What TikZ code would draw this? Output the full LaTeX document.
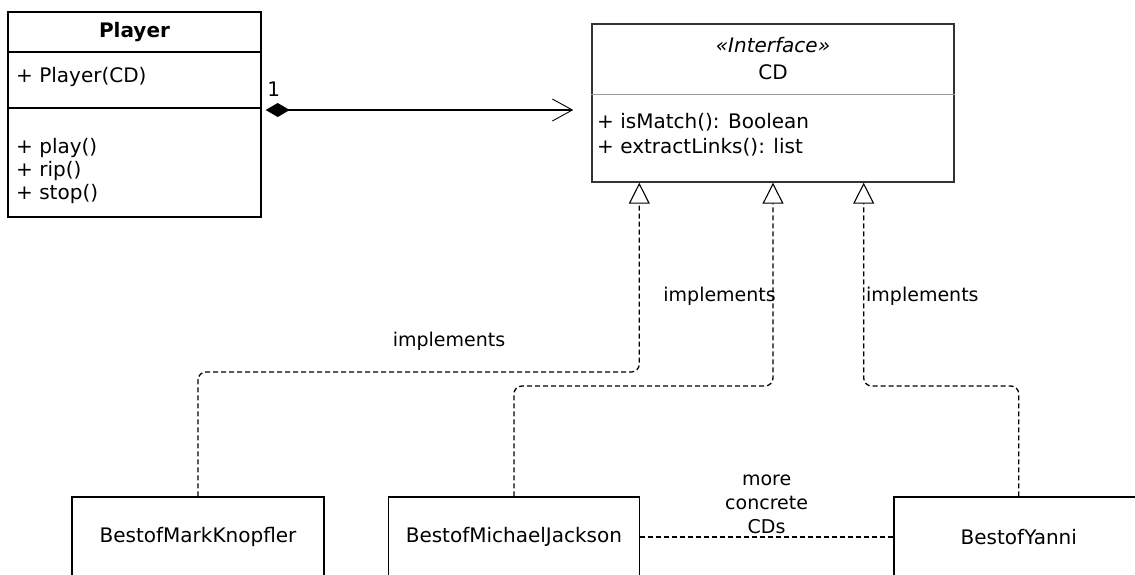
\documentclass[tikz,border=0pt]{standalone}
\usepackage{fontspec}
\setmainfont{DejaVu Sans}
\usetikzlibrary{arrows.meta}
\usetikzlibrary{positioning}

\begin{document}
\begin{tikzpicture}[x=1pt,y=-1pt,
  every node/.style={font=\fontsize{20}{23}\selectfont},
  cls/.style={draw, line width=1.4pt, inner sep=0pt, minimum height=80pt},
  impl/.style={line width=1.3pt, dash pattern=on 5pt off 3pt, rounded corners=8pt,
    -{Triangle[open,length=21pt,width=21pt,line width=1.1pt]}},
  txt/.style={inner sep=0pt, anchor=west},
  lbl/.style={inner sep=0pt, font=\fontsize{19}{23}\selectfont}]
\useasboundingbox (0,0) rectangle (1135,574);
\clip (0,0) rectangle (1135,574);

% Player class
\node[cls, minimum width=253pt, minimum height=205pt] (player) at (134.5,114.5) {};
\draw[line width=1.4pt] (player.west |- 0,52) -- (player.east |- 0,52);
\draw[line width=1.4pt] (player.west |- 0,108) -- (player.east |- 0,108);
\node[inner sep=0pt, font=\fontsize{20}{23}\selectfont\bfseries] (ptitle) at (134.5,32) {Player};
\node[txt] (pctor) at (16,77) {+ Player(CD)};
\node[txt, align=left] (pops) at (16,170.5) {+ play()\\+ rip()\\+ stop()};

% CD interface
\node[cls, draw=black!80, minimum width=362pt, minimum height=158pt] (cd) at (773,103) {};
\draw[black!40, line width=1pt] (cd.west |- 0,94) -- (cd.east |- 0,94);
\node[inner sep=0pt, font=\fontsize{20}{23}\selectfont\itshape] (stereo) at (773,45) {«Interface»};
\node[inner sep=0pt] (cdname) at (773,72) {CD};
\node[txt] (ismatch) at (597,122) {+ isMatch(): Boolean};
\node[txt] (links) at (597,147) {+ extractLinks(): list};

\draw[line width=1.3pt, {Diamond[length=24pt,width=14pt]}-{Straight Barb[length=20pt,width=22pt,line width=0.9pt]},
  shorten <=4pt, shorten >=18pt] (player.east |- 0,110) -- (cd.west |- 0,110)
  node[pos=0, anchor=south west, inner sep=0pt, xshift=5pt, yshift=13pt] (mult) {1};

% concrete CDs
\node[cls, minimum width=252pt] (knopfler) at (198,537) {BestofMarkKnopfler};
\node[cls, minimum width=251pt, right=63pt of knopfler] (mj) {BestofMichaelJackson};
\node[cls, minimum width=250pt, right=253pt of mj] (yanni) {BestofYanni};

\draw[impl] (knopfler.north) -- (knopfler.north |- 0,372) -| ([xshift=48pt]cd.south west);
\draw[impl] (mj.north) -- (mj.north |- 0,386) -| (cd.south);
\draw[impl] (yanni.north) -- (yanni.north |- 0,386) -| ([xshift=-91pt]cd.south east);
\node[lbl] (impl1) at (449,341) {implements};
\node[lbl, anchor=east] (impl2) at (776,296) {implements};
\node[lbl, anchor=west] (impl3) at (866,296) {implements};

\draw[line width=1.3pt, dash pattern=on 5pt off 3pt] (mj) -- (yanni)
  node[midway, above, align=center, inner sep=3pt, font=\fontsize{19}{24}\selectfont] (more) {more\\concrete\\CDs};
\end{tikzpicture}
\end{document}
